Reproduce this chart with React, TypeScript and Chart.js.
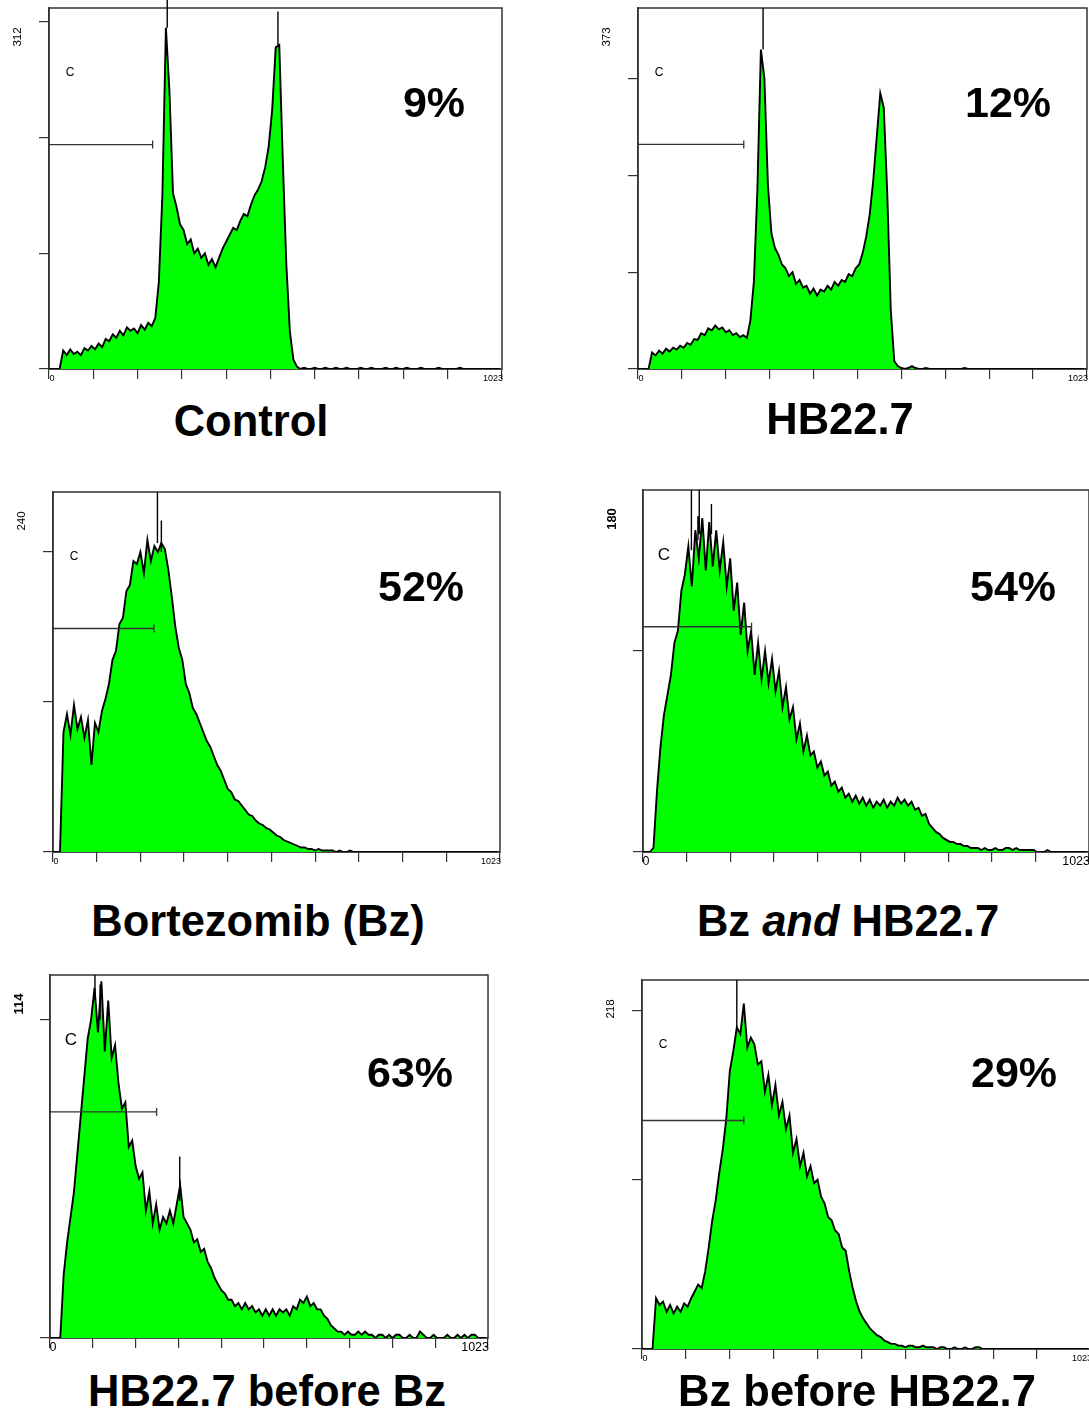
import React, { useEffect, useRef } from "react";
import { Chart, registerables } from "chart.js";

Chart.register(...registerables);

// ---------- DATA ----------
// Histogram channels (0..1016, every 8th channel of 1024)
const CHANNELS: number[] = Array.from({ length: 128 }, (_, i) => i * 8);
const X_TICKS = [0, 100, 200, 300, 400, 500, 600, 700, 800, 900, 1023];
const X_LABELS = ["0", "1023"];

const controlCounts = [
  0, 0, 0, 0, 16, 12, 17, 13, 15, 12, 18, 16, 20, 17, 22, 19,
  26, 24, 30, 27, 33, 29, 36, 33, 35, 31, 38, 34, 40, 37, 44, 75,
  150, 295, 240, 152, 140, 125, 120, 108, 112, 100, 104, 96, 100, 90, 95, 88,
  96, 104, 110, 116, 122, 120, 128, 134, 132, 142, 150, 155, 162, 174, 192, 224,
  278, 280, 180, 90, 32, 8, 2, 0, 1, 0, 0, 1, 0, 0, 1, 0,
  0, 1, 0, 0, 1, 0, 0, 0, 1, 0, 0, 1, 0, 0, 0, 1,
  0, 0, 1, 0, 0, 1, 0, 0, 0, 1, 0, 0, 0, 0, 1, 0,
  0, 0, 0, 0, 1, 0, 0, 0, 0, 0, 0, 0, 0, 0, 0, 0,
];

const hb227Counts = [
  0, 0, 0, 0, 17, 14, 19, 16, 21, 18, 22, 20, 24, 22, 27, 25,
  31, 30, 37, 35, 42, 40, 45, 41, 43, 38, 40, 35, 37, 33, 35, 32,
  50, 90, 185, 330, 300, 190, 140, 125, 118, 108, 104, 96, 100, 88, 92, 84,
  86, 78, 83, 76, 82, 80, 86, 82, 90, 86, 92, 90, 98, 96, 104, 108,
  120, 137, 160, 195, 240, 285, 270, 180, 60, 8, 3, 1, 0, 1, 3, 1,
  0, 0, 1, 0, 0, 0, 0, 0, 0, 0, 0, 0, 0, 1, 0, 0,
  0, 0, 0, 0, 0, 0, 0, 0, 0, 0, 0, 0, 0, 0, 0, 0,
  0, 0, 0, 0, 0, 0, 0, 0, 0, 0, 0, 0, 0, 0, 0, 0,
];

const bortezomibCounts = [
  0, 0, 0, 80, 92, 78, 98, 82, 90, 76, 88, 58, 86, 80, 94, 102,
  112, 128, 134, 152, 156, 174, 178, 194, 192, 200, 186, 208, 194, 204, 200, 206,
  202, 188, 170, 150, 136, 128, 112, 106, 96, 92, 86, 80, 74, 70, 64, 58,
  54, 48, 42, 40, 35, 34, 31, 28, 25, 24, 21, 19, 18, 16, 15, 13,
  11, 10, 8, 7, 6, 5, 4, 3, 3, 2, 2, 1, 2, 1, 1, 1,
  1, 0, 1, 0, 0, 1, 0, 0, 0, 0, 0, 0, 0, 0, 0, 0,
  0, 0, 0, 0, 0, 0, 0, 0, 0, 0, 0, 0, 0, 0, 0, 0,
  0, 0, 0, 0, 0, 0, 0, 0, 0, 0, 0, 0, 0, 0, 0, 0,
];

const bzAndHbCounts = [
  0, 0, 0, 2, 30, 52, 68, 78, 88, 104, 110, 130, 138, 152, 132, 160,
  146, 166, 140, 164, 142, 160, 140, 154, 132, 146, 120, 134, 108, 124, 100, 110,
  88, 104, 86, 100, 84, 96, 80, 90, 72, 82, 66, 72, 56, 64, 50, 58,
  48, 50, 42, 45, 38, 40, 33, 35, 30, 32, 27, 29, 25, 28, 24, 27,
  23, 26, 22, 25, 23, 26, 22, 25, 23, 27, 24, 26, 23, 25, 21, 22,
  18, 19, 14, 12, 10, 9, 7, 6, 5, 5, 4, 4, 3, 3, 2, 2,
  2, 1, 2, 1, 1, 2, 1, 1, 2, 2, 1, 2, 1, 1, 1, 1,
  1, 0, 0, 0, 1, 0, 0, 0, 0, 0, 0, 0, 0, 0, 0, 0,
];

const hbBeforeBzCounts = [
  0, 0, 0, 0, 20, 30, 38, 46, 58, 70, 82, 94, 100, 110, 96, 112,
  90, 106, 88, 92, 80, 72, 74, 60, 62, 54, 50, 52, 40, 46, 36, 42,
  34, 38, 36, 40, 36, 42, 48, 38, 36, 34, 30, 31, 27, 28, 24, 22,
  19, 17, 15, 14, 12, 12, 10, 11, 9, 11, 9, 10, 8, 9, 7, 9,
  7, 9, 7, 9, 8, 9, 7, 10, 9, 12, 11, 13, 10, 11, 9, 9,
  7, 6, 4, 3, 2, 2, 1, 2, 1, 1, 2, 1, 2, 1, 1, 0,
  1, 1, 0, 1, 0, 1, 1, 0, 0, 1, 0, 0, 2, 1, 0, 0,
  1, 0, 0, 0, 1, 0, 0, 1, 0, 1, 0, 1, 1, 0, 0, 0,
];

const bzBeforeHbCounts = [
  0, 0, 0, 0, 30, 26, 28, 22, 26, 21, 25, 22, 27, 25, 30, 34,
  38, 36, 46, 60, 76, 88, 104, 118, 136, 164, 176, 190, 186, 204, 178, 184,
  180, 168, 170, 152, 162, 144, 156, 138, 146, 130, 138, 116, 124, 108, 116, 102,
  108, 98, 100, 90, 86, 78, 76, 70, 68, 60, 58, 46, 36, 28, 22, 18,
  15, 12, 10, 8, 7, 5, 4, 3, 3, 2, 2, 1, 2, 2, 1, 1,
  2, 1, 1, 1, 0, 1, 1, 0, 0, 1, 0, 0, 1, 0, 0, 1,
  1, 0, 0, 0, 0, 0, 0, 0, 0, 0, 0, 0, 0, 0, 0, 0,
  0, 0, 0, 0, 0, 0, 0, 0, 0, 0, 0, 0, 0, 0, 0, 0,
];

const COUNTS = [controlCounts, hb227Counts, bortezomibCounts, bzAndHbCounts, hbBeforeBzCounts, bzBeforeHbCounts];
const Y_MAX = [312, 373, 240, 180, 114, 218];
const Y_TICKS = [[0, 100, 200, 300], [0, 100, 200, 300], [0, 100, 200], [0, 100], [0, 100], [0, 100, 200]];
const PERCENT_LABELS = ["9%", "12%", "52%", "54%", "63%", "29%"];
const GATE_NAME = "C";
const GATE_END = [234, 241, 231, 249, 249, 232];
const GATE_LEVEL = [194, 232, 149, 112, 71, 135];
// single-channel spikes (cursor lines / noise spikes)
const SPIKE_CHANNELS = [[267, 517], [285], [239, 248], [111, 129, 126, 157], [105, 117, 303], [216]];
const SPIKE_LOW = [[295, 280], [330], [206, 200], [150, 158, 155, 158], [106, 100, 43], [190]];
const SPIKE_HIGH = [[325, 309], [373], [240, 221], [180, 180, 167, 173], [114, 111, 57], [218]];

// ---------- LAYOUT / STYLE ----------
const FONT = '"Liberation Sans", Arial, sans-serif';
const AXIS_COLOR = "#333333";
const GREEN = "#00ff00";
const LAYOUT = [
  { box: [49, 8, 502, 369], pct: [434, 117], big: false, title: [251, 435] },
  { box: [638, 8, 1087, 369], pct: [1008, 117], big: false, title: [840, 433] },
  { box: [53, 492, 500, 852], pct: [421, 601], big: false, title: [258, 935] },
  { box: [643, 490, 1089, 852], pct: [1013, 601], big: true, title: [848, 935] },
  { box: [50, 975, 488, 1338], pct: [410, 1087], big: true, title: [267, 1405] },
  { box: [642, 980, 1091, 1349], pct: [1014, 1087], big: false, title: [857, 1405] },
];
const TITLES: React.ReactNode[] = [
  "Control",
  "HB22.7",
  "Bortezomib (Bz)",
  <>Bz <i>and</i> HB22.7</>,
  "HB22.7 before Bz",
  "Bz before HB22.7",
];

const PAD_L = 45, PAD_T = 8, PAD_R = 15, PAD_B = 28;
const Y_AXIS_W = 12, X_AXIS_H = 14;

const flowDecor = {
  id: "flowDecor",
  beforeDatasetsDraw(chart: any) {
    const { ctx, chartArea: a } = chart;
    ctx.save();
    ctx.strokeStyle = AXIS_COLOR;
    ctx.lineWidth = 1.5;
    ctx.strokeRect(a.left, a.top, a.right - a.left, a.bottom - a.top);
    ctx.restore();
  },
  afterDraw(chart: any, _a: any, o: any) {
    const { ctx, chartArea: a } = chart;
    const ys = chart.scales.y;
    const xs = chart.scales.x;
    ctx.save();
    ctx.fillStyle = "#000";
    // y max label (rotated)
    ctx.save();
    ctx.translate(a.left - 31, ys.getPixelForValue(o.yMax) + 29);
    ctx.rotate(-Math.PI / 2);
    ctx.font = o.big ? `bold 13px ${FONT}` : `11.5px ${FONT}`;
    ctx.textAlign = "center";
    ctx.textBaseline = "middle";
    ctx.fillText(String(o.yMax), 0, 0);
    ctx.restore();
    // x labels
    ctx.font = o.big ? `12.5px ${FONT}` : `9px ${FONT}`;
    ctx.textBaseline = "middle";
    ctx.textAlign = "center";
    ctx.fillText(X_LABELS[0], xs.getPixelForValue(0) + 3, a.bottom + 10);
    ctx.textAlign = "right";
    ctx.fillText(X_LABELS[1], xs.getPixelForValue(1023) + 1, a.bottom + 10);
    // gate name
    ctx.font = o.big ? `17px ${FONT}` : `12px ${FONT}`;
    ctx.textAlign = "center";
    ctx.fillText(GATE_NAME, a.left + 21, a.top + 65);
    // percent
    ctx.font = `bold 43px ${FONT}`;
    ctx.textAlign = "center";
    ctx.textBaseline = "alphabetic";
    ctx.fillText(o.pct, o.pctX, o.pctY);
    ctx.restore();
  },
};

function FlowPanel({ idx }: { idx: number }) {
  const ref = useRef<HTMLCanvasElement>(null);
  const L = LAYOUT[idx];
  const [l, t, r, b] = L.box;
  const left = l - PAD_L, top = t - PAD_T;
  const w = r - l + PAD_L + PAD_R, h = b - t + PAD_T + PAD_B;

  useEffect(() => {
    const counts = COUNTS[idx];
    const hist = CHANNELS.map((c, i) => ({ x: c, y: counts[i] }));
    const spikes: any[] = [];
    SPIKE_CHANNELS[idx].forEach((c, i) => {
      spikes.push({ x: c, y: SPIKE_LOW[idx][i] }, { x: c, y: SPIKE_HIGH[idx][i] }, { x: c, y: null });
    });
    const gate = [{ x: 0, y: GATE_LEVEL[idx] }, { x: GATE_END[idx], y: GATE_LEVEL[idx] }];
    const yTicks = Y_TICKS[idx];
    const chart = new Chart(ref.current as HTMLCanvasElement, {
      type: "line",
      data: {
        datasets: [
          {
            data: hist,
            borderColor: "#000",
            borderWidth: 1.9,
            backgroundColor: GREEN,
            fill: "origin",
            pointRadius: 0,
            tension: 0,
            order: 3,
          },
          {
            data: spikes,
            borderColor: "#000",
            borderWidth: 1.4,
            pointRadius: 0,
            fill: false,
            spanGaps: false,
            clip: false,
            order: 2,
          },
          {
            data: gate,
            borderColor: AXIS_COLOR,
            borderWidth: 1.3,
            pointRadius: [0, 4],
            pointStyle: "line",
            rotation: 90,
            pointBorderColor: AXIS_COLOR,
            pointBorderWidth: 1.3,
            fill: false,
            order: 1,
          },
        ] as any,
      },
      options: {
        animation: false,
        responsive: false,
        devicePixelRatio: 1,
        events: [],
        layout: { padding: { left: PAD_L - Y_AXIS_W, top: PAD_T, right: PAD_R, bottom: PAD_B - X_AXIS_H } },
        plugins: {
          legend: { display: false },
          tooltip: { enabled: false },
          flowDecor: {
            yMax: Y_MAX[idx],
            big: L.big,
            pct: PERCENT_LABELS[idx],
            pctX: L.pct[0] - left,
            pctY: L.pct[1] - top,
          },
        } as any,
        scales: {
          x: {
            type: "linear",
            min: 0,
            max: 1023,
            position: "bottom",
            afterBuildTicks: (s: any) => {
              s.ticks = X_TICKS.map((v) => ({ value: v }));
            },
            afterFit: (s: any) => {
              s.height = X_AXIS_H;
            },
            ticks: { display: false },
            grid: { drawOnChartArea: false, drawTicks: true, tickLength: 10, color: AXIS_COLOR, lineWidth: 1.2 },
            border: { display: true, color: AXIS_COLOR, width: 1.5 },
          },
          y: {
            type: "linear",
            min: 0,
            max: Y_MAX[idx],
            position: "left",
            afterBuildTicks: (s: any) => {
              s.ticks = yTicks.map((v) => ({ value: v }));
            },
            afterFit: (s: any) => {
              s.width = Y_AXIS_W;
            },
            ticks: { display: false },
            grid: { drawOnChartArea: false, drawTicks: true, tickLength: 10, color: AXIS_COLOR, lineWidth: 1.2 },
            border: { display: true, color: AXIS_COLOR, width: 1.5 },
          },
        } as any,
      },
      plugins: [flowDecor as any],
    });
    return () => chart.destroy();
  }, [idx]);

  return (
    <canvas
      ref={ref}
      width={w}
      height={h}
      style={{ position: "absolute", left, top, width: w, height: h }}
    />
  );
}

export default function App() {
  return (
    <div
      style={{
        position: "absolute",
        left: 0,
        top: 0,
        width: 1089,
        height: 1417,
        overflow: "hidden",
        background: "#fff",
      }}
    >
      {LAYOUT.map((_, i) => (
        <FlowPanel key={i} idx={i} />
      ))}
      {LAYOUT.map((L, i) => (
        <div
          key={"t" + i}
          style={{
            position: "absolute",
            left: L.title[0] - 260,
            top: L.title[1] - 35.5,
            width: 520,
            textAlign: "center",
            fontFamily: FONT,
            fontWeight: "bold",
            fontSize: 43.5,
            lineHeight: "43px",
            color: "#000",
            whiteSpace: "nowrap",
          }}
        >
          {TITLES[i]}
        </div>
      ))}
    </div>
  );
}
